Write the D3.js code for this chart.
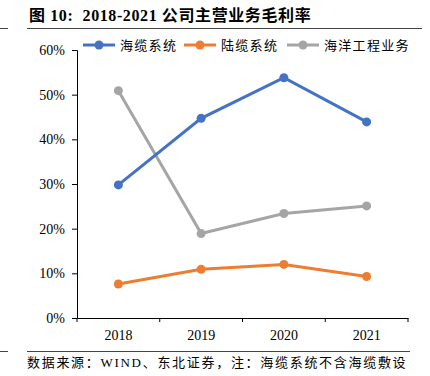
<!DOCTYPE html>
<html>
<head>
<meta charset="utf-8">
<script src="https://cdn.jsdelivr.net/npm/d3@7/dist/d3.min.js"></script>
<style>
  body { margin: 0; background: #fff; }
  svg text { font-family: "Liberation Serif", "Noto Sans CJK SC", serif; }
</style>
</head>
<body>
<div id="chart"></div>
<script>
// chart data
var years = ["2018", "2019", "2020", "2021"];
var seriesNames = ["海缆系统", "陆缆系统", "海洋工程业务"];
var seaCable = [29.8, 44.7, 53.8, 43.9];
var landCable = [7.6, 10.9, 12.0, 9.3];
var marineEng = [50.9, 18.9, 23.4, 25.1];
var yTicks = [0, 10, 20, 30, 40, 50, 60];
var colors = ["#4472C4", "#ED7D31", "#A5A5A5"];

var W = 430, H = 376;
var margin = { top: 50, right: 22, bottom: 58, left: 77 };

var svg = d3.select("#chart").append("svg")
    .attr("width", W)
    .attr("height", H);

/*** TITLE + RULES */
svg.append("text")
    .attr("x", 29)
    .attr("y", 21)
    .style("font-size", "16px")
    .style("font-weight", "bold")
    .style("letter-spacing", "0.6px")
    .style("white-space", "pre")
    .text("图 10:  2018-2021 公司主营业务毛利率");

svg.append("line").attr("x1", 0).attr("x2", 8).attr("y1", 28.5).attr("y2", 28.5)
    .attr("stroke", "#444").attr("stroke-width", 1);
svg.append("line").attr("x1", 27).attr("x2", 422).attr("y1", 28.5).attr("y2", 28.5)
    .attr("stroke", "#444").attr("stroke-width", 1);
svg.append("line").attr("x1", 0).attr("x2", 8).attr("y1", 351.5).attr("y2", 351.5)
    .attr("stroke", "#444").attr("stroke-width", 1);
svg.append("line").attr("x1", 27).attr("x2", 410).attr("y1", 351.5).attr("y2", 351.5)
    .attr("stroke", "#444").attr("stroke-width", 1);

svg.append("text")
    .attr("x", 27)
    .attr("y", 367)
    .style("font-size", "13px")
    .style("letter-spacing", "1.7px")
    .text("数据来源：WIND、东北证券，注：海缆系统不含海缆敷设");

/*** SCALES */
var x = d3.scaleBand()
    .domain(years)
    .range([margin.left, W - margin.right]);

var y = d3.scaleLinear()
    .domain([0, 60])
    .range([H - margin.bottom, margin.top]);

/*** AXES */
var yAxis = d3.axisLeft(y)
    .tickValues(yTicks)
    .tickSize(5)
    .tickPadding(7)
    .tickFormat(function(d) { return d + "%"; });

var gy = svg.append("g")
    .attr("transform", "translate(" + margin.left + ",0)")
    .call(yAxis);
gy.selectAll("text").style("font-size", "14px").attr("fill", "#000");
gy.selectAll("line, path").attr("stroke", "#000");

var xAxis = d3.axisBottom(x).tickSize(0).tickPadding(12);
var gx = svg.append("g")
    .attr("transform", "translate(0," + (H - margin.bottom) + ")")
    .call(xAxis);
gx.selectAll("text").style("font-size", "14px").attr("fill", "#000");
gx.select("path").attr("stroke", "#000");

// x tick marks at band boundaries
var bounds = years.map(function(d) { return x(d); }).concat([x.range()[1]]);
gx.selectAll(".bound")
    .data(bounds)
    .enter()
    .append("line")
    .attr("class", "bound")
    .attr("x1", function(d) { return d; })
    .attr("x2", function(d) { return d; })
    .attr("y1", 0)
    .attr("y2", 4)
    .attr("stroke", "#000");

/*** LINES */
var allSeries = [seaCable, landCable, marineEng];
var line = d3.line()
    .x(function(d, i) { return x(years[i]) + x.bandwidth() / 2; })
    .y(function(d) { return y(d); });

// draw orange first, then gray, then blue on top
[1, 2, 0].forEach(function(s) {
    var g = svg.append("g");
    g.append("path")
        .datum(allSeries[s])
        .attr("d", line)
        .attr("fill", "none")
        .attr("stroke", colors[s])
        .attr("stroke-width", 3);
    g.selectAll("circle")
        .data(allSeries[s])
        .enter()
        .append("circle")
        .attr("cx", function(d, i) { return x(years[i]) + x.bandwidth() / 2; })
        .attr("cy", function(d) { return y(d); })
        .attr("r", 4.5)
        .attr("fill", colors[s]);
});

/*** LEGEND */
var legendX = [83, 184, 287];
var legend = svg.selectAll(".legend")
    .data(seriesNames)
    .enter()
    .append("g")
    .attr("class", "legend")
    .attr("transform", function(d, i) { return "translate(" + legendX[i] + ",45)"; });

legend.append("line")
    .attr("x1", 0).attr("x2", 32).attr("y1", 0).attr("y2", 0)
    .attr("stroke", function(d, i) { return colors[i]; })
    .attr("stroke-width", 3);
legend.append("circle")
    .attr("cx", 16).attr("cy", 0).attr("r", 4.5)
    .attr("fill", function(d, i) { return colors[i]; });
legend.append("text")
    .attr("x", 37)
    .attr("y", 5)
    .style("font-size", "13px")
    .style("letter-spacing", "1.3px")
    .text(function(d) { return d; });
</script>
</body>
</html>
